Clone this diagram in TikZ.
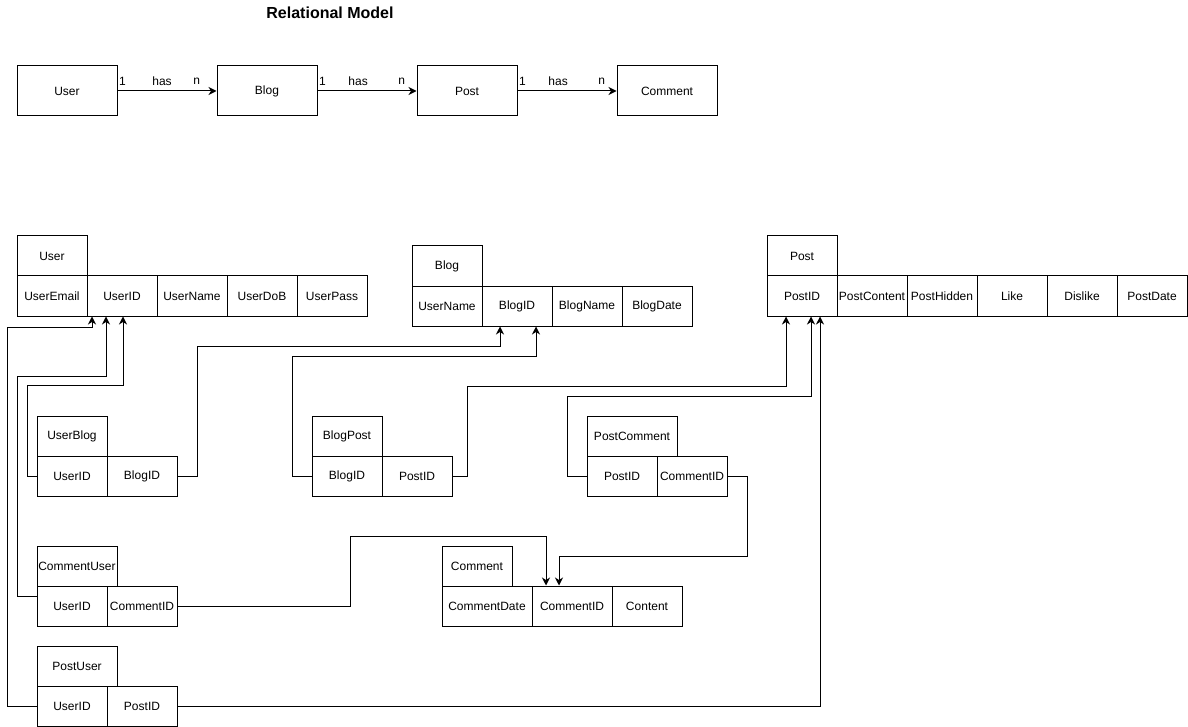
\documentclass[tikz,border=0pt]{standalone}
\usepackage{fontspec}
\setmainfont{Liberation Sans}
\usetikzlibrary{arrows.meta}
\begin{document}
\begin{tikzpicture}[x=1pt,y=-1pt,
  every node/.style={font=\fontsize{12}{14}\selectfont, text=black},
  cell/.style={draw, line width=1pt, minimum width=70pt, minimum height=40pt, inner sep=0pt},
  wide/.style={cell, minimum width=#1},
  entity/.style={draw, line width=1pt, minimum width=100pt, minimum height=50pt, inner sep=0pt},
  arr/.style={line width=1pt, -{Stealth[length=8pt,width=8pt,inset=2.5pt]}},
  link/.style={line width=1pt, -{Stealth[length=8pt,width=8pt,inset=2.5pt]}},
  lbl/.style={inner sep=0pt, yshift=10pt}
]
\useasboundingbox (0,0) rectangle (1188,727);

% ---------- title ----------
\node[font=\fontsize{16}{19}\selectfont\bfseries] (title) at (330,13) {Relational Model};

% ---------- entities and relationships ----------
\node[entity] (eUser)    at (67,91)  {User};
\node[entity] (eBlog)    at (267,91) {Blog};
\node[entity] (ePost)    at (467,91) {Post};
\node[entity] (eComment) at (667,91) {Comment};

\draw[arr] (eUser) -- node[lbl,pos=0.05]{1} node[lbl,pos=0.45]{has} node[lbl,pos=0.80]{n} (eBlog);
\draw[arr] (eBlog) -- node[lbl,pos=0.05]{1} node[lbl,pos=0.41]{has} node[lbl,pos=0.85]{n} (ePost);
\draw[arr] (ePost) -- node[lbl,pos=0.05]{1} node[lbl,pos=0.41]{has} node[lbl,pos=0.85]{n} (eComment);

% ---------- User table ----------
\node[cell] (uH) at (52,256)  {User};
\node[cell] (u1) at (52,296)  {UserEmail};
\node[cell] (u2) at (122,296) {UserID};
\node[cell] (u3) at (192,296) {UserName};
\node[cell] (u4) at (262,296) {UserDoB};
\node[cell] (u5) at (332,296) {UserPass};

% ---------- Blog table ----------
\node[cell] (bH) at (447,266) {Blog};
\node[cell] (b1) at (447,306) {UserName};
\node[cell] (b2) at (517,306) {BlogID};
\node[cell] (b3) at (587,306) {BlogName};
\node[cell] (b4) at (657,306) {BlogDate};

% ---------- Post table ----------
\node[cell] (pH) at (802,256)  {Post};
\node[cell] (p1) at (802,296)  {PostID};
\node[cell] (p2) at (872,296)  {PostContent};
\node[cell] (p3) at (942,296)  {PostHidden};
\node[cell] (p4) at (1012,296) {Like};
\node[cell] (p5) at (1082,296) {Dislike};
\node[cell] (p6) at (1152,296) {PostDate};

% ---------- UserBlog ----------
\node[cell] (ubH) at (72,436)  {UserBlog};
\node[cell] (ub1) at (72,476)  {UserID};
\node[cell] (ub2) at (142,476) {BlogID};

% ---------- BlogPost ----------
\node[cell] (bpH) at (347,436) {BlogPost};
\node[cell] (bp1) at (347,476) {BlogID};
\node[cell] (bp2) at (417,476) {PostID};

% ---------- PostComment ----------
\node[wide=90pt] (pcH) at (632,436) {PostComment};
\node[cell] (pc1) at (622,476) {PostID};
\node[cell] (pc2) at (692,476) {CommentID};

% ---------- CommentUser ----------
\node[wide=80pt] (cuH) at (77,566) {CommentUser};
\node[cell] (cu1) at (72,606)  {UserID};
\node[cell] (cu2) at (142,606) {CommentID};

% ---------- Comment ----------
\node[cell] (cH) at (477,566) {Comment};
\node[wide=90pt] (c1) at (487,606) {CommentDate};
\node[wide=80pt] (c2) at (572,606) {CommentID};
\node[cell] (c3) at (647,606) {Content};

% ---------- PostUser ----------
\node[wide=80pt] (puH) at (77,666) {PostUser};
\node[cell] (pu1) at (72,706)  {UserID};
\node[cell] (pu2) at (142,706) {PostID};

% ---------- foreign key links ----------
% to User.UserID
\draw[link] (pu1.west) -| (7,327) -| ([xshift=-30pt]u2.south);
\draw[link] ([yshift=10pt]cu1.west) -| (17,376) -| ([xshift=-16pt]u2.south);
\draw[link] (ub1.west) -| (27,385) -| ([xshift=1pt]u2.south);
% to Blog.BlogID
\draw[link] (ub2.east) -| (197,346) -| ([xshift=-17pt]b2.south);
\draw[link] (bp1.west) -| (292,356) -| ([xshift=19pt]b2.south);
% to Post.PostID
\draw[link] (bp2.east) -| (467,386) -| ([xshift=-16pt]p1.south);
\draw[link] (pc1.west) -| (567,396) -| ([xshift=9pt]p1.south);
\draw[link] (pu2.east) -| ([xshift=18pt]p1.south);
% to Comment.CommentID
\draw[link] (cu2.east) -| (350,536) -| ([xshift=-26pt]c2.north);
\draw[link] (pc2.east) -| (747,556) -| ([xshift=-13pt]c2.north);
\end{tikzpicture}
\end{document}
